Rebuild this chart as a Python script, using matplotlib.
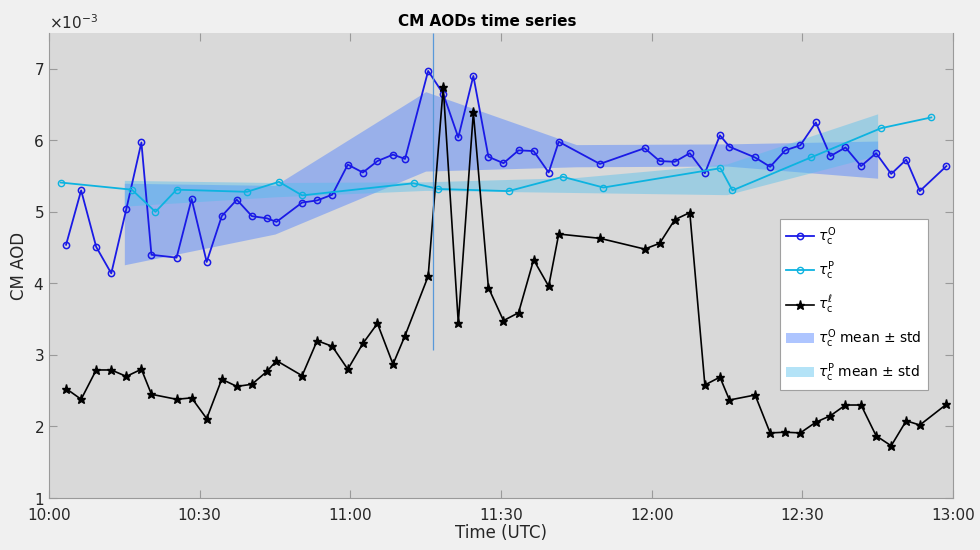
# CM AODs time series - three AOD series with 30-min mean +/- std bands

import pandas as pd  # time handling
import matplotlib
matplotlib.use("Agg")
import matplotlib.pyplot as plt  # plotting
import matplotlib.dates as mdates  # time axis

# --- Data (values in units of 1e-3) ---
t_main = [3.4, 6.4, 9.4, 12.4, 15.4, 18.4, 20.4, 25.4, 28.4, 31.4,
          34.4, 37.4, 40.4, 43.4, 45.3, 50.4, 53.4, 56.4, 59.5,
          62.5, 65.4, 68.5, 70.9, 75.5, 78.5, 81.5, 84.5, 87.5, 90.5,
          93.5, 96.5, 99.5, 101.5, 109.7, 118.6,
          121.6, 124.6, 127.6, 130.6, 133.6, 135.5, 140.6, 143.6, 146.6, 149.6,
          152.7, 155.6, 158.6, 161.7, 164.7, 167.7, 170.7, 173.4, 178.7]  # minutes after 10:00

tau_o = [4.54, 5.30, 4.51, 4.14, 5.04, 5.97, 4.40, 4.36, 5.18, 4.30,
         4.94, 5.17, 4.94, 4.91, 4.86, 5.13, 5.16, 5.24, 5.66,
         5.55, 5.71, 5.80, 5.74, 6.97, 6.65, 6.04, 6.90, 5.77, 5.68,
         5.86, 5.85, 5.55, 5.98, 5.67, 5.89,
         5.71, 5.70, 5.82, 5.54, 6.07, 5.91, 5.76, 5.63, 5.86, 5.93,
         6.25, 5.78, 5.90, 5.64, 5.82, 5.53, 5.73, 5.29, 5.64]

tau_l = [2.53, 2.38, 2.79, 2.79, 2.70, 2.80, 2.45, 2.38, 2.40, 2.11,
         2.66, 2.56, 2.59, 2.77, 2.92, 2.71, 3.20, 3.12, 2.80,
         3.16, 3.44, 2.87, 3.27, 4.10, 6.74, 3.45, 6.39, 3.94, 3.48,
         3.59, 4.33, 3.96, 4.69, 4.63, 4.48,
         4.56, 4.89, 4.99, 2.58, 2.69, 2.37, 2.44, 1.91, 1.92, 1.91,
         2.06, 2.15, 2.30, 2.30, 1.87, 1.73, 2.08, 2.02, 2.31]

t_p = [2.3, 16.5, 21.2, 25.4, 39.4, 45.8, 50.4, 72.6, 77.5, 91.5,
       102.3, 110.4, 133.7, 136.1, 151.7, 165.7, 175.7]
tau_p = [5.41, 5.31, 5.00, 5.31, 5.28, 5.42, 5.23, 5.40, 5.32, 5.29,
         5.49, 5.34, 5.61, 5.30, 5.76, 6.17, 6.32]

# 30-min bin centres and mean +/- std edges
t_bins = [15, 45, 75, 105, 135, 165]
o_low = [4.26, 4.69, 5.57, 5.63, 5.64, 5.47]
o_high = [5.40, 5.37, 6.68, 5.94, 5.95, 5.99]
p_low = [5.08, 5.21, 5.30, 5.27, 5.24, 5.79]
p_high = [5.44, 5.41, 5.42, 5.48, 5.67, 6.37]

event_min = 76.5  # vertical marker
event_low = 3.07

# --- Convert to real times / values ---
base = pd.Timestamp("2023-01-01 10:00")
scale = 1e-3


def to_time(mins):
    return base + pd.to_timedelta(mins, unit="min")


def sc(vals):
    return [v * scale for v in vals]


# --- Figure ---
fig = plt.figure(figsize=(9.8, 5.5), dpi=100, facecolor="#f0f0f0")
ax = fig.add_axes([0.05, 0.0945, 0.9224, 0.8455])
ax.set_facecolor("#d9d9d9")

ax.fill_between(to_time(t_bins), sc(o_low), sc(o_high), color=(0.3, 0.5, 1.0),
                alpha=0.45, lw=0, label=r"$\tau_{\mathrm{c}}^{\mathrm{O}}$ mean ± std")
ax.fill_between(to_time(t_bins), sc(p_low), sc(p_high), color=(0.3, 0.745, 0.933),
                alpha=0.42, lw=0, label=r"$\tau_{\mathrm{c}}^{\mathrm{P}}$ mean ± std")

l_o, = ax.plot(to_time(t_main), sc(tau_o), color=(0.1, 0.1, 0.9), lw=1.3, marker="o",
               ms=4.5, mfc="none", mew=1.1, label=r"$\tau_{\mathrm{c}}^{\mathrm{O}}$")
l_p, = ax.plot(to_time(t_p), sc(tau_p), color=(0.05, 0.7, 0.88), lw=1.3, marker="o",
               ms=4.5, mfc="none", mew=1.0, label=r"$\tau_{\mathrm{c}}^{\mathrm{P}}$")
l_l, = ax.plot(to_time(t_main), sc(tau_l), color="black", lw=1.2, marker="*",
               ms=6.5, label=r"$\tau_{\mathrm{c}}^{\ell}$")

ax.vlines(to_time(event_min), event_low * scale, 7.5 * scale, color=(0.35, 0.6, 0.85), lw=0.9)

# --- Axes styling ---
ax.set_xlim(to_time(0), to_time(180))
ax.set_ylim(1e-3, 7.5e-3)
ax.set_yticks(sc([1, 2, 3, 4, 5, 6, 7]))
ax.ticklabel_format(style="sci", axis="y", scilimits=(-3, -3), useMathText=True)
ax.yaxis.get_offset_text().set_fontsize(11)
ax.yaxis.get_offset_text().set_color("#262626")
ax.xaxis.set_major_locator(mdates.MinuteLocator(byminute=[0, 30]))
ax.xaxis.set_major_formatter(mdates.DateFormatter("%H:%M"))

ax.tick_params(direction="in", length=6, width=0.8, color="#9a9a9a", labelcolor="#262626",
               labelsize=11, top=True, right=True)
ax.tick_params(axis="x", pad=7)
for side in ["left", "bottom", "right"]:
    ax.spines[side].set_color("#9a9a9a")
ax.spines["top"].set_visible(False)

ax.set_title("CM AODs time series", fontsize=11, fontweight="bold", pad=5, x=0.485)
ax.set_xlabel("Time (UTC)", fontsize=12, color="#262626", labelpad=1)
ax.set_ylabel("CM AOD", fontsize=12, color="#262626", labelpad=4)

# --- Legend ---
handles = [l_o, l_p, l_l] + ax.collections[:2]
leg = ax.legend(handles=handles, loc="upper right", bbox_to_anchor=(0.972, 0.60),
                borderaxespad=0, fontsize=10, fancybox=False, framealpha=1,
                edgecolor="#a0a0a0", handlelength=2.0, handletextpad=0.3,
                labelspacing=0.85, borderpad=0.45)
leg.set_zorder(5)
leg.get_frame().set_linewidth(0.8)

plt.savefig("out.png", dpi=100, facecolor=fig.get_facecolor())
